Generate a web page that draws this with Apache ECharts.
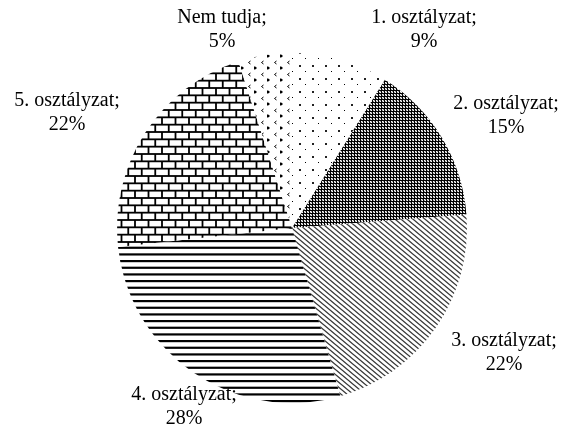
<!DOCTYPE html>
<html>
<head>
<meta charset="utf-8">
<script src="https://cdn.jsdelivr.net/npm/echarts@6/dist/echarts.min.js"></script>
<style>
  html, body { margin: 0; padding: 0; background: #fff; }
  #chart { width: 581px; height: 431px; }
</style>
</head>
<body>
<div id="chart"></div>
<script>
// Grade distribution (percent of respondents)
const categories = ['1. osztályzat', '2. osztályzat', '3. osztályzat', '4. osztályzat', '5. osztályzat', 'Nem tudja'];
const shares = [9, 15, 22, 28, 22, 5];

// Label anchor points (centre of each two-line label block)
const labelAnchors = [[424, 30], [506, 116], [504, 353], [184, 407], [67, 113], [222, 30]];

function tile(w, h, draw) {
  const c = document.createElement('canvas');
  c.width = w; c.height = h;
  const g = c.getContext('2d');
  g.fillStyle = '#fff';
  g.fillRect(0, 0, w, h);
  draw(g, w, h);
  return { image: c, repeat: 'repeat' };
}

// sparse staggered dots
const dots = tile(13, 13, (g) => {
  g.fillStyle = '#222';
  g.fillRect(0, 0, 2, 2);
  g.fillStyle = '#000';
  g.fillRect(6, 6, 1, 1);
});

// fine dark grid
const checker = tile(3, 3, (g) => {
  g.fillStyle = '#000';
  g.fillRect(0, 0, 3, 1);
  g.fillRect(0, 0, 1, 3);
  g.fillStyle = '#999';
  g.fillRect(2, 1, 1, 1);
  g.fillRect(1, 2, 1, 1);
});

// diagonal hatch falling to the right
const diagonal = tile(6, 5, (g, w, h) => {
  g.strokeStyle = '#333';
  g.lineWidth = 1.3;
  for (const k of [-1, 0, 1]) {
    g.beginPath();
    g.moveTo(-w, -h + k * h);
    g.lineTo(2 * w, 2 * h + k * h);
    g.stroke();
  }
});

// horizontal rules
const horizontal = tile(4, 20, (g, w, h) => {
  g.fillStyle = '#000';
  for (let i = 0; i < 3; i++) g.fillRect(0, i * h / 3, w, 2.2);
});

// brick wall
const bricks = tile(27, 44, (g, w, h) => {
  g.strokeStyle = '#000';
  g.lineWidth = 1.8;
  const rh = h / 6, bw = w / 2;
  for (let r = 0; r <= 6; r++) {
    const y = r * rh;
    g.beginPath(); g.moveTo(0, y); g.lineTo(w, y); g.stroke();
    if (r === 6) break;
    const off = (r % 2) ? bw / 2 : 0;
    for (let x = off - bw; x <= w + bw; x += bw) {
      g.beginPath(); g.moveTo(x, y); g.lineTo(x, y + rh); g.stroke();
    }
  }
});

// small chevron marks
const chevrons = tile(13, 12, (g) => {
  g.strokeStyle = '#000';
  g.lineWidth = 1;
  g.beginPath(); g.moveTo(3.5, 1); g.lineTo(1.5, 2.5); g.lineTo(3.5, 4); g.stroke();
  g.beginPath(); g.moveTo(7.5, 6.5); g.lineTo(9.5, 8); g.lineTo(7.5, 9.5); g.stroke();
  g.fillStyle = '#000';
  g.fillRect(7, 7, 2, 2);
});

const fills = [dots, checker, diagonal, horizontal, bricks, chevrons];

const chart = echarts.init(document.getElementById('chart'), null, { renderer: 'canvas' });
chart.setOption({
  animation: false,
  backgroundColor: '#fff',
  series: [{
    type: 'pie',
    center: [292, 228],
    radius: 175,
    startAngle: 90,
    clockwise: true,
    avoidLabelOverlap: false,
    data: categories.map((name, i) => ({
      name,
      value: shares[i],
      itemStyle: { color: fills[i] }
    })),
    itemStyle: { borderWidth: 0 },
    emphasis: { disabled: true },
    label: {
      show: true,
      position: 'outside',
      formatter: '{b};\n{c}%',
      fontFamily: '"Liberation Serif", "Times New Roman", serif',
      fontSize: 20,
      lineHeight: 24,
      color: '#000',
      align: 'center'
    },
    labelLine: { show: false },
    labelLayout: (params) => {
      const p = labelAnchors[params.dataIndex];
      return { x: p[0], y: p[1], align: 'center', verticalAlign: 'middle' };
    }
  }]
});
</script>
</body>
</html>
